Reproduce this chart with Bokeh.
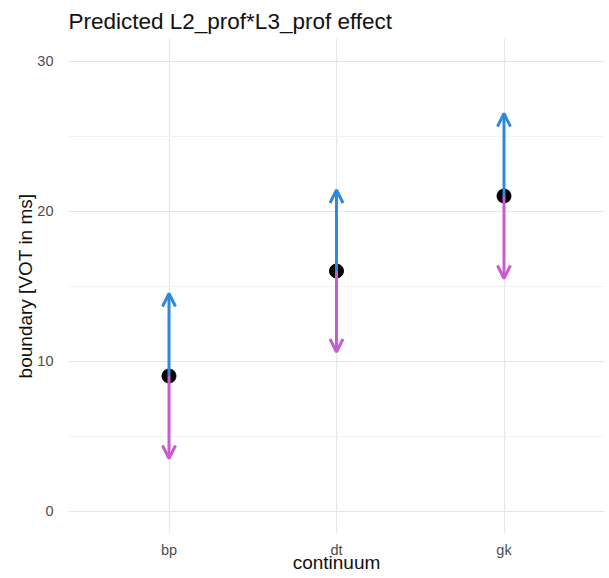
from bokeh.plotting import figure
from bokeh.models import Arrow, OpenHead, ColumnDataSource, FixedTicker, Range1d
from bokeh.embed import file_html
from bokeh.resources import INLINE

continuum = ["bp", "dt", "gk"]
boundary = [9.0, 16.0, 21.0]
upper = [14.5, 21.4, 26.5]
lower = [3.5, 10.6, 15.5]
y_ticks = [0, 10, 20, 30]

FONT = "Liberation Sans"
BLUE = "#2F88DA"
MAGENTA = "#C95BD0"

xs = [i + 1 for i in range(len(continuum))]

p = figure(width=609, height=578, output_backend="svg", toolbar_location=None,
           x_range=Range1d(0.4, 3.6), y_range=Range1d(-1.5, 31.5),
           frame_width=536, frame_height=495,
           min_border_left=68, min_border_right=5, min_border_top=38, min_border_bottom=45,
           title="Predicted L2_prof*L3_prof effect")

p.title.text_font = FONT
p.title.text_font_size = "22.5px"
p.title.text_font_style = "normal"
p.title.text_color = "#111111"
p.title.offset = 0
p.title.standoff = 10
p.title.align = "left"

p.outline_line_color = None
p.background_fill_color = "white"
p.border_fill_color = "white"

# axes
p.xaxis.ticker = FixedTicker(ticks=xs)
p.xaxis.major_label_overrides = {x: c for x, c in zip(xs, continuum)}
p.yaxis.ticker = FixedTicker(ticks=y_ticks, minor_ticks=[5, 15, 25])
for ax in (p.xaxis[0], p.yaxis[0]):
    ax.axis_line_color = None
    ax.major_tick_line_color = None
    ax.minor_tick_line_color = None
    ax.major_label_text_font = FONT
    ax.major_label_text_font_size = "14.5px"
    ax.major_label_text_color = "#4d4d4d"
    ax.axis_label_text_font = FONT
    ax.axis_label_text_font_size = "19px"
    ax.axis_label_text_font_style = "normal"
    ax.axis_label_text_color = "#111111"
p.xaxis.axis_label = "continuum"
p.yaxis.axis_label = "boundary [VOT in ms]"
p.xaxis.major_label_standoff = 2
p.xaxis.axis_label_standoff = -9
p.yaxis.major_label_standoff = 9
p.yaxis.axis_label_standoff = -2

p.xgrid.grid_line_color = "#e6e6e6"
p.xgrid.grid_line_width = 1.2
p.ygrid.grid_line_color = "#e6e6e6"
p.ygrid.grid_line_width = 1.2
p.ygrid.minor_grid_line_color = "#f2f2f2"
p.ygrid.minor_grid_line_width = 1.0

src = ColumnDataSource(dict(x=xs, y=boundary, up=upper, lo=lower))

p.add_layout(Arrow(end=OpenHead(size=13, line_color=BLUE, line_width=3),
                   x_start="x", y_start="y", x_end="x", y_end="up",
                   line_color=BLUE, line_width=3, source=src))
p.add_layout(Arrow(end=OpenHead(size=13, line_color=MAGENTA, line_width=3),
                   x_start="x", y_start="y", x_end="x", y_end="lo",
                   line_color=MAGENTA, line_width=3, source=src))

p.scatter("x", "y", source=src, size=14, color="black")

open("out.html", "w").write(file_html(p, INLINE))
